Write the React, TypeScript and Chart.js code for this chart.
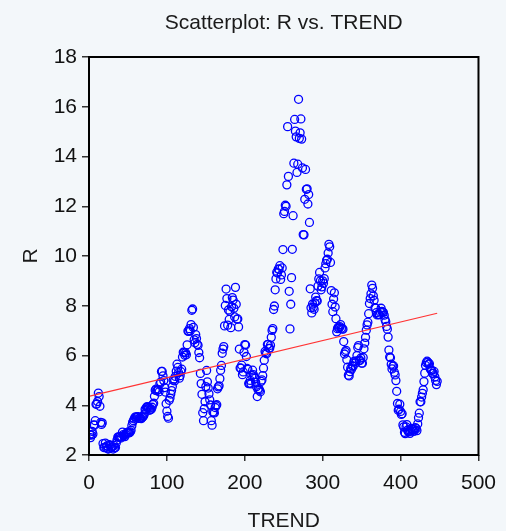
import React, { useEffect, useRef } from "react";
import { Chart, registerables } from "chart.js";

Chart.register(...registerables);

const TITLE = "Scatterplot: R vs. TREND";
const X_LABEL = "TREND";
const Y_LABEL = "R";
const X_TICKS = [0, 100, 200, 300, 400, 500];
const Y_TICKS = [2, 4, 6, 8, 10, 12, 14, 16, 18];

// R values, one per TREND step (1, 2, 3, ...)
const R_1959_1968 = [
  2.82, 2.70, 2.80, 2.95, 2.84, 3.21, 3.20, 3.38, 4.04, 4.05, 4.15, 4.49,
  4.35, 3.96, 3.31, 3.23, 3.29, 2.46, 2.30, 2.30, 2.48, 2.30, 2.37, 2.25,
  2.24, 2.42, 2.39, 2.29, 2.29, 2.33, 2.24, 2.39, 2.28, 2.30, 2.48, 2.60,
  2.72, 2.73, 2.72, 2.73, 2.68, 2.73, 2.92, 2.82, 2.78, 2.74, 2.83, 2.87,
  2.91, 2.92, 2.89, 2.90, 2.93, 2.99, 3.18, 3.32, 3.38, 3.45, 3.52, 3.52,
  3.52, 3.53, 3.54, 3.47, 3.48, 3.48, 3.46, 3.50, 3.53, 3.57, 3.64, 3.84,
  3.81, 3.93, 3.93, 3.93, 3.89, 3.80, 3.84, 3.84, 3.92, 4.03, 4.08, 4.36,
  4.60, 4.65, 4.58, 4.61, 4.63, 4.54, 4.86, 4.93, 5.36, 5.36, 5.18, 4.99,
  4.71, 4.53, 4.06, 3.76, 3.55, 3.48, 4.20, 4.29, 4.45, 4.59, 4.75, 5.01,
  5.06, 4.98, 5.16, 5.37, 5.65, 5.52, 5.31, 5.09, 5.19, 5.35, 5.45, 5.94,
];
const R_1969_1978 = [
  6.13, 6.12, 6.01, 6.11, 6.03, 6.43, 6.98, 6.97, 7.08, 6.99, 7.24, 7.82,
  7.87, 7.13, 6.63, 6.51, 6.84, 6.68, 6.45, 6.41, 6.12, 5.91, 5.28, 4.87,
  4.44, 3.70, 3.38, 3.86, 4.14, 4.75, 5.40, 4.94, 4.69, 4.46, 4.22, 4.01,
  3.38, 3.20, 3.73, 3.71, 3.69, 3.91, 3.98, 4.02, 4.66, 4.74, 4.78, 5.07,
  5.41, 5.60, 6.09, 6.26, 6.36, 7.19, 8.01, 8.67, 8.29, 7.22, 7.83, 7.45,
  7.77, 7.12, 7.96, 8.33, 8.23, 7.90, 7.55, 8.74, 8.06, 7.46, 7.47, 7.15,
  6.26, 5.50, 5.49, 5.61, 5.23, 5.34, 6.13, 6.44, 6.42, 5.96, 5.48, 5.44,
  4.87, 4.88, 5.00, 4.86, 5.20, 5.41, 5.23, 5.14, 5.08, 4.92, 4.75, 4.35,
  4.62, 4.67, 4.60, 4.54, 4.96, 5.02, 5.19, 5.49, 5.81, 6.16, 6.10, 6.07,
  6.44, 6.45, 6.29, 6.29, 6.41, 6.73, 7.01, 7.08, 7.85, 7.99, 8.64, 9.08,
];
const R_1979_1988 = [
  9.35, 9.32, 9.48, 9.46, 9.61, 9.06, 9.24, 9.52, 10.26, 11.70, 11.79, 12.04,
  12.00, 12.86, 15.20, 13.20, 8.58, 7.07, 8.06, 9.13, 10.27, 11.62, 13.73, 15.49,
  15.02, 14.79, 13.36, 13.69, 16.30, 14.73, 14.95, 15.51, 14.70, 13.54, 10.86, 10.85,
  12.28, 13.48, 12.68, 12.70, 12.09, 12.47, 11.35, 8.68, 7.92, 7.71, 8.07, 7.94,
  7.86, 8.11, 8.35, 8.21, 8.19, 8.79, 9.08, 9.34, 9.00, 8.64, 8.76, 9.00,
  8.90, 9.09, 9.52, 9.69, 9.83, 9.87, 10.12, 10.47, 10.37, 9.74, 8.61, 8.06,
  7.76, 8.27, 8.52, 7.95, 7.48, 6.95, 7.08, 7.14, 7.10, 7.16, 7.24, 7.10,
  7.07, 7.06, 6.56, 6.06, 6.15, 6.21, 5.83, 5.53, 5.21, 5.18, 5.35, 5.49,
  5.45, 5.59, 5.56, 5.76, 5.75, 5.69, 5.78, 6.00, 6.32, 6.40, 5.81, 5.80,
  5.90, 5.69, 5.69, 5.92, 6.27, 6.50, 6.73, 7.02, 7.23, 7.34, 7.68, 8.09,
];
const R_1989_1996 = [
  8.29, 8.48, 8.83, 8.70, 8.40, 8.22, 7.92, 7.91, 7.72, 7.63, 7.65, 7.64,
  7.64, 7.74, 7.90, 7.77, 7.74, 7.73, 7.62, 7.45, 7.36, 7.17, 7.06, 6.74,
  6.22, 5.94, 5.91, 5.65, 5.46, 5.57, 5.58, 5.33, 5.22, 4.99, 4.56, 4.07,
  3.80, 3.84, 4.04, 3.75, 3.63, 3.66, 3.21, 3.13, 2.91, 2.86, 3.13, 3.22,
  3.00, 2.93, 2.95, 2.87, 2.96, 3.07, 3.04, 3.02, 2.95, 3.02, 3.10, 3.06,
  2.98, 3.25, 3.50, 3.68, 4.14, 4.14, 4.33, 4.48, 4.62, 4.95, 5.29, 5.60,
  5.71, 5.77, 5.73, 5.65, 5.67, 5.47, 5.42, 5.40, 5.28, 5.28, 5.36, 5.14,
  5.00, 4.83, 4.96,
];

const R_VALUES = [...R_1959_1968, ...R_1969_1978, ...R_1979_1988, ...R_1989_1996];
const TREND = R_VALUES.map((_, i) => i + 1);

const FONT = "'Liberation Sans', Arial, Helvetica, sans-serif";
const BG = "#f3f7fa";

function fitLine(xs: number[], ys: number[]) {
  const n = xs.length;
  let sx = 0, sy = 0, sxx = 0, sxy = 0;
  for (let i = 0; i < n; i++) {
    sx += xs[i]; sy += ys[i]; sxx += xs[i] * xs[i]; sxy += xs[i] * ys[i];
  }
  const b = (n * sxy - sx * sy) / (n * sxx - sx * sx);
  const a = (sy - b * sx) / n;
  return { a, b };
}

export default function App() {
  const ref = useRef<HTMLCanvasElement | null>(null);

  useEffect(() => {
    document.body.style.margin = "0";
    document.body.style.background = BG;
    const canvas = ref.current;
    if (!canvas) return;

    const points = TREND.map((t, i) => ({ x: t, y: R_VALUES[i] }));
    const { a, b } = fitLine(TREND, R_VALUES);
    const xMin = Math.min(...TREND);
    const xMax = Math.max(...TREND);
    const fit = [
      { x: xMin, y: a + b * xMin },
      { x: xMax, y: a + b * xMax },
    ];

    const bgPlugin = {
      id: "bg",
      beforeDraw(chart: any) {
        const { ctx, width, height } = chart;
        ctx.save();
        ctx.fillStyle = BG;
        ctx.fillRect(0, 0, width, height);
        ctx.restore();
      },
    };
    const framePlugin = {
      id: "frame",
      afterDraw(chart: any) {
        const { ctx, chartArea } = chart;
        ctx.save();
        ctx.strokeStyle = "#000";
        ctx.lineWidth = 2;
        ctx.strokeRect(chartArea.left, chartArea.top, chartArea.right - chartArea.left, chartArea.bottom - chartArea.top);
        ctx.restore();
      },
    };

    const chart = new Chart(canvas, {
      type: "scatter",
      data: {
        datasets: [
          {
            type: "scatter",
            data: points,
            pointStyle: "circle",
            pointRadius: 4,
            borderWidth: 1.3,
            borderColor: "#0000ff",
            backgroundColor: "rgba(0,0,0,0)",
            order: 2,
          } as any,
          {
            type: "line",
            data: fit,
            borderColor: "#ff3333",
            borderWidth: 1.2,
            pointRadius: 0,
            fill: false,
            order: 1,
          } as any,
        ],
      },
      options: {
        animation: false,
        responsive: false,
        layout: { padding: { left: 0, right: 18, top: 0, bottom: 0 } },
        plugins: {
          legend: { display: false },
          tooltip: { enabled: false },
          title: {
            display: true,
            text: TITLE,
            fullSize: false,
            color: "#1a1a1a",
            font: { family: FONT, size: 21, weight: "normal" },
            padding: { top: 10.7, bottom: 21.1 },
          },
        },
        scales: {
          x: {
            type: "linear",
            min: 0,
            max: 500,
            afterBuildTicks: (s: any) => {
              s.ticks = X_TICKS.map((v) => ({ value: v }));
            },
            afterFit: (s: any) => {
              s.height = 76;
            },
            grid: { drawOnChartArea: false, drawTicks: true, tickLength: 6, color: "#333", lineWidth: 1.5 },
            border: { display: false },
            ticks: { color: "#111", font: { family: FONT, size: 21 }, padding: 10, maxRotation: 0 },
            title: {
              display: true,
              text: X_LABEL,
              color: "#1a1a1a",
              font: { family: FONT, size: 21, lineHeight: 0.9 },
              padding: { top: 0, bottom: 0 },
            },
          },
          y: {
            type: "linear",
            min: 2,
            max: 18,
            afterBuildTicks: (s: any) => {
              s.ticks = Y_TICKS.map((v) => ({ value: v }));
            },
            afterFit: (s: any) => {
              s.width = 89;
            },
            grid: { drawOnChartArea: false, drawTicks: true, tickLength: 7, color: "#333", lineWidth: 1.5 },
            border: { display: false },
            ticks: { color: "#111", font: { family: FONT, size: 21 }, padding: 5 },
            title: {
              display: true,
              text: Y_LABEL,
              color: "#1a1a1a",
              font: { family: FONT, size: 21 },
              padding: { top: 18.4, bottom: 0 },
            },
          },
        },
      } as any,
      plugins: [bgPlugin, framePlugin],
    });

    return () => chart.destroy();
  }, []);

  return (
    <div style={{ width: 506, height: 531, background: BG }}>
      <canvas ref={ref} width={506} height={531} style={{ display: "block", width: 506, height: 531 }} />
    </div>
  );
}
